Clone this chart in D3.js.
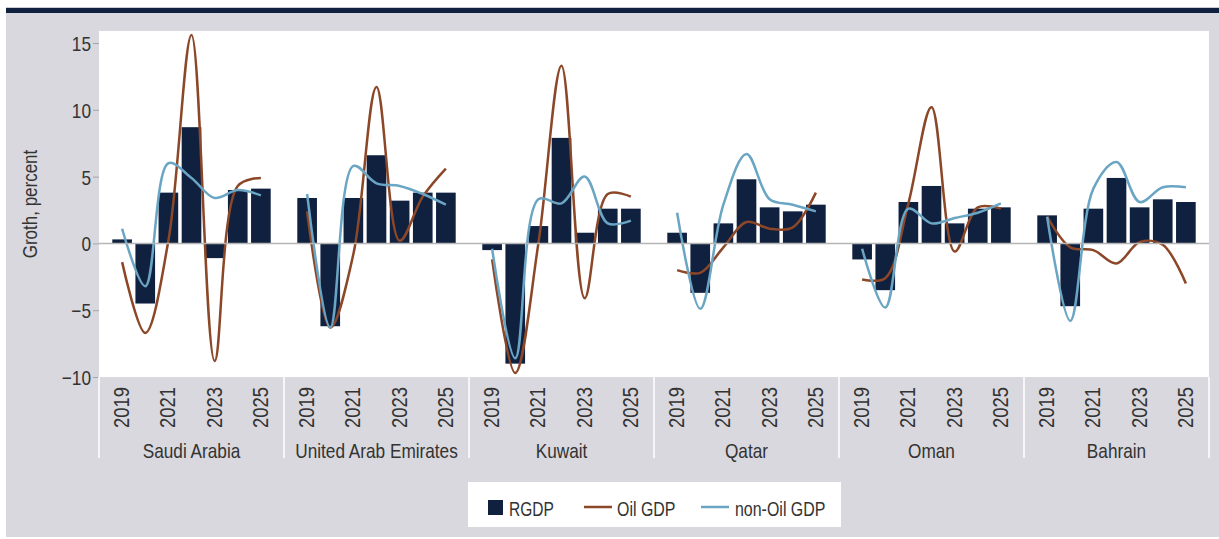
<!DOCTYPE html>
<html>
<head>
<meta charset="utf-8">
<script src="https://cdn.jsdelivr.net/npm/d3@7"></script>
<style>
  body { margin: 0; background: #fff; }
  text { font-family: "Liberation Sans", Arial, sans-serif; fill: #333; }
</style>
</head>
<body>
<div id="chart"></div>
<script>
// data
var countries = ["Saudi Arabia", "United Arab Emirates", "Kuwait", "Qatar", "Oman", "Bahrain"];
var years = ["2019", "2020", "2021", "2022", "2023", "2024", "2025"];
var yearLabels = ["2019", "2021", "2023", "2025"];
var yTicks = [-10, -5, 0, 5, 10, 15];

// one row per country, one value per year
var rgdp = [
  [0.3, -4.5, 3.8, 8.7, -1.1, 4.0, 4.1],
  [3.4, -6.2, 3.4, 6.6, 3.2, 3.8, 3.8],
  [-0.5, -9.0, 1.3, 7.9, 0.8, 2.6, 2.6],
  [0.8, -3.7, 1.5, 4.8, 2.7, 2.4, 2.9],
  [-1.2, -3.5, 3.1, 4.3, 1.5, 2.6, 2.7],
  [2.1, -4.7, 2.6, 4.9, 2.7, 3.3, 3.1]
];
var oilGdp = [
  [-1.4, -6.7, 0.2, 15.6, -8.8, 4.3, 4.9],
  [2.4, -6.3, -0.8, 11.7, 0.2, 3.5, 5.6],
  [-1.2, -9.7, 0.0, 13.3, -4.1, 3.7, 3.5],
  [-2.0, -2.2, -0.3, 1.6, 1.1, 1.2, 3.8],
  [-2.7, -2.6, 3.0, 10.2, -0.6, 2.7, 2.6],
  [2.0, -0.3, -0.5, -1.5, 0.1, -0.1, -3.0]
];
var nonOilGdp = [
  [1.1, -3.2, 6.0, 4.9, 3.4, 4.0, 3.6],
  [3.7, -6.3, 5.8, 4.5, 4.3, 3.7, 2.9],
  [-0.4, -8.6, 3.3, 3.0, 5.0, 1.5, 1.7],
  [2.3, -4.9, 2.9, 6.7, 3.3, 2.9, 2.4],
  [-0.4, -4.8, 2.6, 1.5, 1.9, 2.3, 3.0],
  [2.0, -5.8, 4.1, 6.1, 3.1, 4.2, 4.2]
];

var navy = "#102140", brown = "#8b4727", blue = "#6aa5c3", panel = "#d9d8de";

// the original font is a condensed face, squeeze Liberation Sans to match
function squeeze(x, y, sx, rot) {
  return "translate(" + x + "," + y + ")" + (rot ? " rotate(" + rot + ")" : "") + " scale(" + sx + ",1)";
}

var svg = d3.select("#chart").append("svg")
  .attr("width", 1219)
  .attr("height", 539);

// frame
svg.append("rect").attr("x", 6).attr("y", 13).attr("width", 1213).attr("height", 524).attr("fill", panel);
svg.append("rect").attr("x", 6).attr("y", 7).attr("width", 1213).attr("height", 1).attr("fill", "#c9ccd3");
svg.append("rect").attr("x", 6).attr("y", 8).attr("width", 1213).attr("height", 5).attr("fill", navy);

var plot = { left: 99, right: 1209, top: 31, bottom: 377 };
svg.append("rect")
  .attr("x", plot.left).attr("y", plot.top)
  .attr("width", plot.right - plot.left).attr("height", plot.bottom - plot.top)
  .attr("fill", "#fff");

var x0 = d3.scaleBand().domain(countries).range([plot.left, plot.right]);
var x1 = d3.scaleBand().domain(years).range([0, x0.bandwidth()])
  .paddingInner(0.15).paddingOuter(0.575);
var y = d3.scaleLinear().domain([-10, 15.9]).range([plot.bottom, plot.top]);

// y axis
var yAxis = svg.append("g")
  .attr("transform", "translate(" + plot.left + ",0)")
  .call(d3.axisLeft(y).tickValues(yTicks).tickSize(6));
yAxis.select(".domain").remove();
yAxis.selectAll(".tick line").attr("stroke", "#a6a6a6");
yAxis.selectAll(".tick text")
  .attr("x", null)
  .attr("dy", "0.36em")
  .attr("transform", squeeze(-8, 0, 0.82))
  .style("font-size", "21px")
  .attr("fill", "#333");

svg.append("text")
  .attr("transform", squeeze(37, 204, 0.85, -90))
  .attr("text-anchor", "middle")
  .style("font-size", "20px")
  .text("Groth, percent");

// bars
var groups = svg.selectAll("g.country")
  .data(countries)
  .enter().append("g")
  .attr("class", "country")
  .attr("transform", function(d) { return "translate(" + x0(d) + ",0)"; });

groups.selectAll("rect")
  .data(function(d, i) { return rgdp[i].map(function(v, j) { return { year: years[j], v: v }; }); })
  .enter().append("rect")
  .attr("x", function(d) { return x1(d.year); })
  .attr("width", x1.bandwidth())
  .attr("y", function(d) { return y(Math.max(0, d.v)); })
  .attr("height", function(d) { return Math.abs(y(d.v) - y(0)); })
  .attr("fill", navy);

// zero line
svg.append("line")
  .attr("x1", plot.left).attr("x2", plot.right)
  .attr("y1", y(0)).attr("y2", y(0))
  .attr("stroke", "#b5b5b5").attr("stroke-width", 1.5);

var line = d3.line()
  .x(function(d, j) { return x1(years[j]) + x1.bandwidth() / 2; })
  .y(function(d) { return y(d); })
  .curve(d3.curveCatmullRom.alpha(0.5));

groups.append("path")
  .attr("d", function(d, i) { return line(oilGdp[i]); })
  .attr("fill", "none").attr("stroke", brown).attr("stroke-width", 2.5);

groups.append("path")
  .attr("d", function(d, i) { return line(nonOilGdp[i]); })
  .attr("fill", "none").attr("stroke", blue).attr("stroke-width", 2.5);

// category axis
groups.selectAll("text.year")
  .data(yearLabels)
  .enter().append("text")
  .attr("class", "year")
  .attr("transform", function(d) { return squeeze(x1(d) + x1.bandwidth() / 2 - 1, 387, 0.84, -90); })
  .attr("text-anchor", "end")
  .attr("dy", "0.36em")
  .style("font-size", "22px")
  .text(function(d) { return d; });

groups.append("text")
  .attr("transform", squeeze(x0.bandwidth() / 2, 458, 0.82))
  .attr("text-anchor", "middle")
  .style("font-size", "21px")
  .text(function(d) { return d; });

svg.selectAll("line.sep")
  .data(countries.concat(["end"]))
  .enter().append("line")
  .attr("class", "sep")
  .attr("x1", function(d) { return d === "end" ? plot.right : x0(d); })
  .attr("x2", function(d) { return d === "end" ? plot.right : x0(d); })
  .attr("y1", plot.bottom).attr("y2", 458)
  .attr("stroke", "#fff").attr("stroke-width", 1.5);

// legend
var legend = svg.append("g");
legend.append("rect").attr("x", 468).attr("y", 482).attr("width", 373).attr("height", 45).attr("fill", "#fff");
legend.append("rect").attr("x", 488).attr("y", 500).attr("width", 15).attr("height", 15).attr("fill", navy);
legend.append("text").attr("transform", squeeze(509, 516, 0.74)).style("font-size", "21px").text("RGDP");
legend.append("line").attr("x1", 584).attr("x2", 612).attr("y1", 507).attr("y2", 507)
  .attr("stroke", brown).attr("stroke-width", 2.5);
legend.append("text").attr("transform", squeeze(617, 516, 0.76)).style("font-size", "21px").text("Oil GDP");
legend.append("line").attr("x1", 701).attr("x2", 729).attr("y1", 507).attr("y2", 507)
  .attr("stroke", blue).attr("stroke-width", 2.5);
legend.append("text").attr("transform", squeeze(735, 516, 0.76)).style("font-size", "21px").text("non-Oil GDP");
</script>
</body>
</html>
